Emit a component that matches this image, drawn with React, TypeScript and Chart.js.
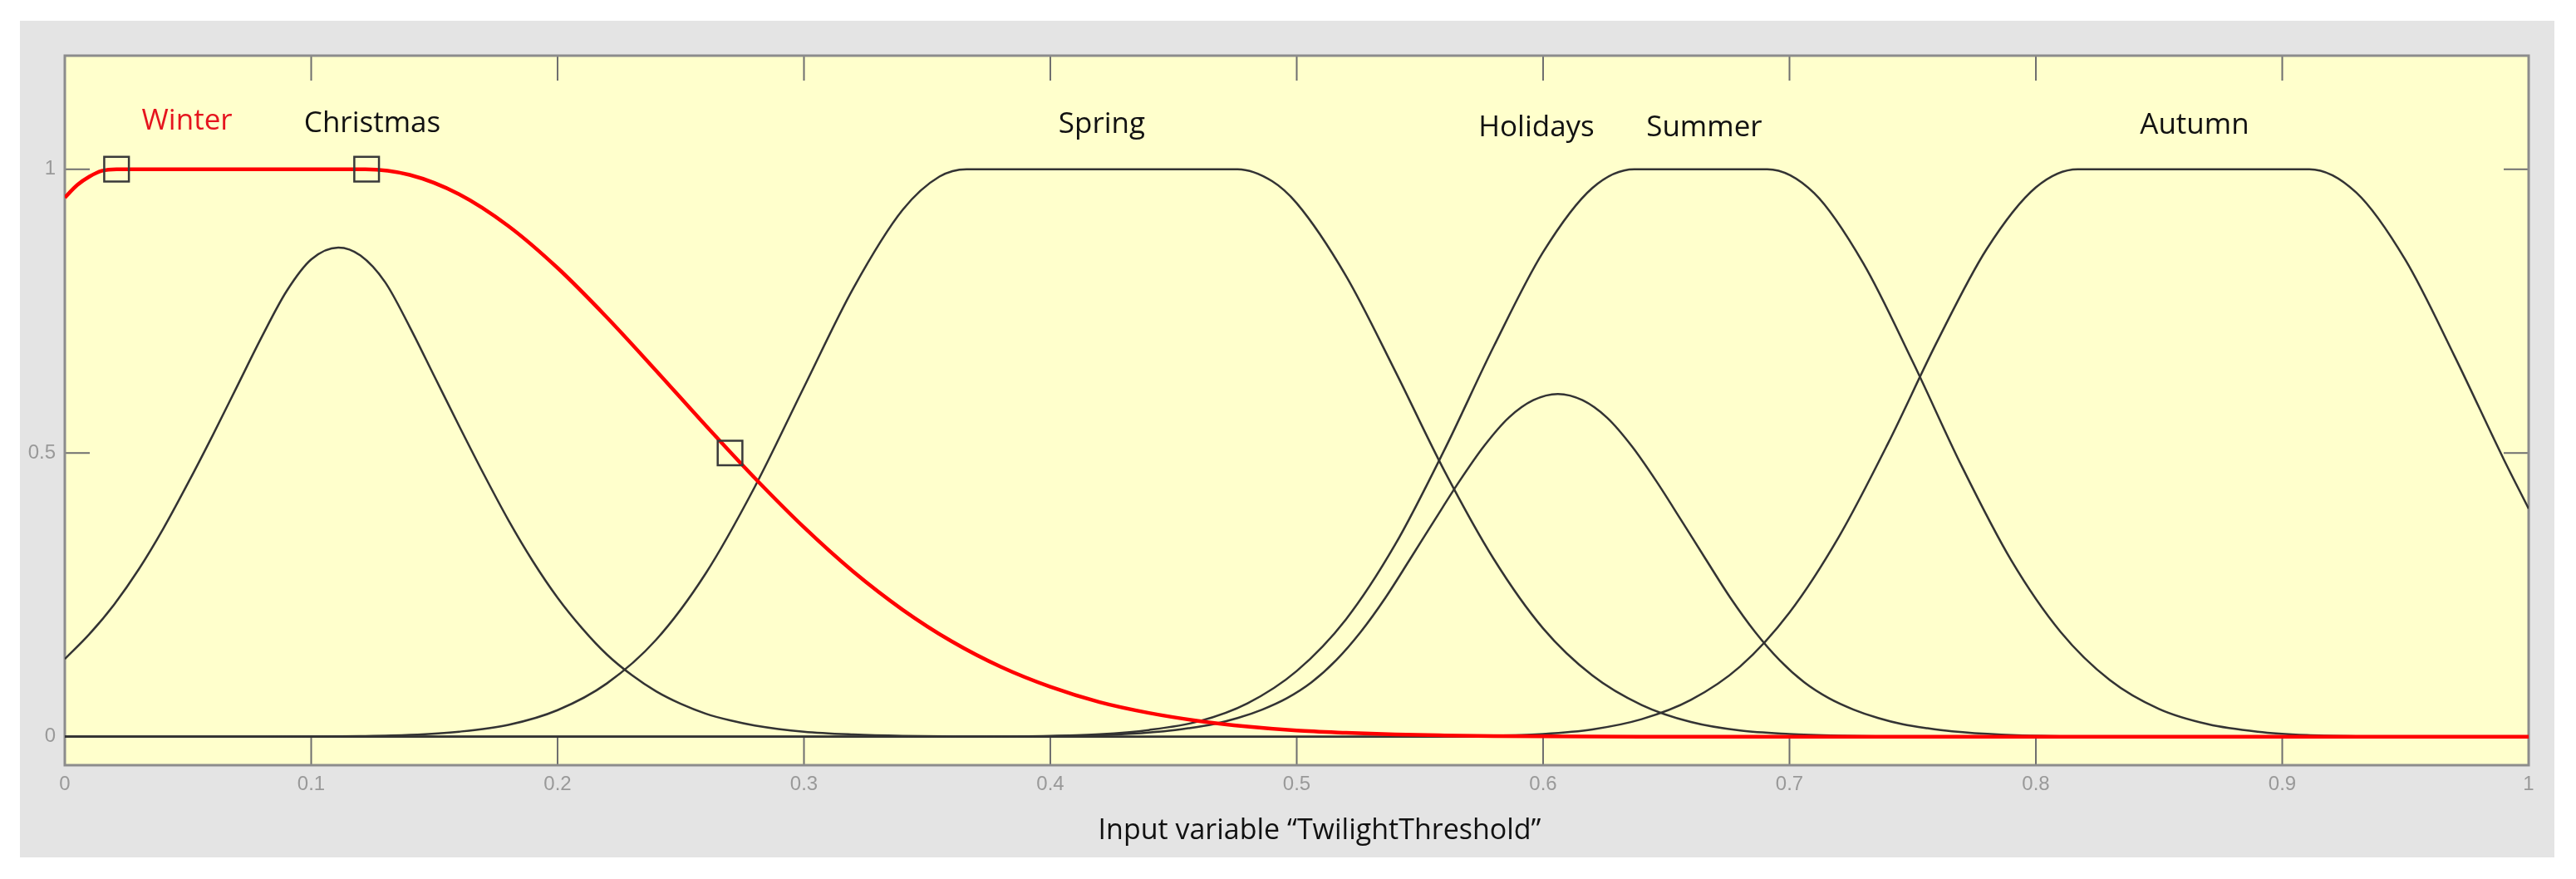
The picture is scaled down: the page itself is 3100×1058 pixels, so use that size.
import React, { useEffect, useRef } from "react";
import { Chart, registerables } from "chart.js";

Chart.register(...registerables);

// ---------- axis ticks ----------
const xTicks = [0, 0.1, 0.2, 0.3, 0.4, 0.5, 0.6, 0.7, 0.8, 0.9, 1];
const xTickLabels = ["0", "0.1", "0.2", "0.3", "0.4", "0.5", "0.6", "0.7", "0.8", "0.9", "1"];
const yTicks = [0, 0.5, 1];
const yTickLabels = ["0", "0.5", "1"];

// ---------- membership function names / label anchors (data coords) ----------
const mfNames = ["Winter", "Christmas", "Spring", "Holidays", "Summer", "Autumn"];
const labelX = [0.0496, 0.1248, 0.4209, 0.5973, 0.6654, 0.8644];
const labelY = [1.07, 1.066, 1.064, 1.058, 1.058, 1.063];
const xTitle = "Input variable \u201CTwilightThreshold\u201D";

// ---------- series ----------
const winterX = [0, 0.005, 0.01, 0.015, 0.021, 0.122, 0.14, 0.16, 0.18, 0.2, 0.22, 0.24, 0.26, 0.28, 0.3, 0.32, 0.34, 0.36, 0.38, 0.4, 0.42, 0.44, 0.46, 0.48, 0.5, 0.52, 0.54, 0.56, 0.58, 0.6, 0.64, 0.7, 1];
const winterY = [0.95, 0.972, 0.987, 0.997, 1, 1, 0.99, 0.956, 0.9, 0.826, 0.739, 0.645, 0.549, 0.456, 0.369, 0.291, 0.224, 0.168, 0.123, 0.088, 0.061, 0.042, 0.028, 0.018, 0.011, 0.007, 0.004, 0.0024, 0.0014, 0.0008, 0.0002, 0, 0];

const christmasX = [0, 0.01, 0.02, 0.03, 0.04, 0.05, 0.06, 0.07, 0.08, 0.09, 0.1, 0.111, 0.12, 0.13, 0.14, 0.15, 0.16, 0.17, 0.18, 0.19, 0.2, 0.21, 0.22, 0.23, 0.24, 0.25, 0.26, 0.27, 0.28, 0.3, 0.32, 0.34, 0.36, 0.4, 1];
const christmasY = [0.137, 0.181, 0.233, 0.295, 0.367, 0.447, 0.531, 0.618, 0.705, 0.785, 0.841, 0.862, 0.848, 0.801, 0.722, 0.635, 0.548, 0.463, 0.382, 0.309, 0.245, 0.191, 0.145, 0.109, 0.08, 0.058, 0.041, 0.029, 0.02, 0.009, 0.004, 0.0015, 0.0006, 0, 0];

const springX = [0, 0.08, 0.1, 0.12, 0.14, 0.16, 0.18, 0.2, 0.22, 0.24, 0.26, 0.28, 0.3, 0.32, 0.34, 0.355, 0.366, 0.476, 0.49, 0.5, 0.52, 0.54, 0.56, 0.58, 0.6, 0.62, 0.64, 0.66, 0.68, 0.7, 0.72, 0.74, 0.76, 1];
const springY = [0, 0, 0.0004, 0.0012, 0.0034, 0.009, 0.021, 0.047, 0.094, 0.171, 0.287, 0.44, 0.616, 0.79, 0.928, 0.987, 1, 1, 0.979, 0.94, 0.812, 0.644, 0.468, 0.313, 0.191, 0.108, 0.056, 0.026, 0.011, 0.005, 0.002, 0.0005, 0, 0];

const holidaysX = [0, 0.366, 0.406, 0.426, 0.446, 0.456, 0.466, 0.476, 0.486, 0.496, 0.506, 0.516, 0.526, 0.536, 0.546, 0.556, 0.566, 0.576, 0.586, 0.596, 0.606, 0.616, 0.626, 0.636, 0.646, 0.656, 0.666, 0.676, 0.686, 0.696, 0.706, 0.716, 0.726, 0.736, 0.746, 0.756, 0.766, 0.786, 0.806, 0.846, 1];
const holidaysY = [0, 0.0002, 0.0014, 0.0039, 0.0097, 0.015, 0.022, 0.033, 0.048, 0.068, 0.096, 0.135, 0.185, 0.245, 0.313, 0.382, 0.45, 0.512, 0.562, 0.593, 0.604, 0.593, 0.562, 0.512, 0.45, 0.382, 0.313, 0.245, 0.185, 0.135, 0.096, 0.068, 0.048, 0.033, 0.022, 0.015, 0.0097, 0.0039, 0.0014, 0.0002, 0];

const summerX = [0, 0.36, 0.38, 0.4, 0.42, 0.44, 0.46, 0.48, 0.5, 0.52, 0.54, 0.56, 0.58, 0.6, 0.62, 0.637, 0.691, 0.71, 0.73, 0.75, 0.77, 0.79, 0.81, 0.83, 0.85, 0.87, 0.89, 0.91, 0.93, 0.96, 1];
const summerY = [0, 0, 0.0005, 0.0016, 0.0045, 0.012, 0.027, 0.059, 0.116, 0.207, 0.339, 0.506, 0.688, 0.854, 0.967, 1, 1, 0.958, 0.834, 0.661, 0.476, 0.311, 0.185, 0.1, 0.049, 0.022, 0.009, 0.003, 0.001, 0, 0];

const autumnX = [0, 0.52, 0.54, 0.56, 0.58, 0.6, 0.62, 0.64, 0.66, 0.68, 0.7, 0.72, 0.74, 0.76, 0.78, 0.8, 0.817, 0.911, 0.93, 0.95, 0.97, 0.99, 1];
const autumnY = [0, 0, 0.0002, 0.0006, 0.002, 0.005, 0.013, 0.031, 0.065, 0.124, 0.219, 0.352, 0.517, 0.697, 0.859, 0.968, 1, 1, 0.959, 0.84, 0.67, 0.488, 0.402];

// square markers on the selected (Winter) function
const markerX = [0.021, 0.1225, 0.27];
const markerY = [1, 1, 0.5];

const W = 3100;
const H = 1058;

function pts(xs: number[], ys: number[]) {
  return xs.map((x, i) => ({ x, y: ys[i] }));
}

export default function App() {
  const ref = useRef<HTMLCanvasElement | null>(null);

  useEffect(() => {
    const canvas = ref.current;
    if (!canvas) return;

    const decor = {
      id: "decor",
      beforeDraw(chart: any) {
        const { ctx, chartArea: a } = chart;
        ctx.save();
        ctx.fillStyle = "#ffffff";
        ctx.fillRect(0, 0, W, H);
        ctx.fillStyle = "#e4e4e4";
        ctx.fillRect(24, 25, 3050, 1007);
        ctx.fillStyle = "#ffffcc";
        ctx.fillRect(a.left, a.top, a.right - a.left, a.bottom - a.top);
        ctx.restore();
      },
      beforeDatasetsDraw(chart: any) {
        const { ctx, chartArea: a, scales } = chart;
        const sx = scales.x;
        const sy = scales.y;
        ctx.save();
        ctx.strokeStyle = "#6f6f6f";
        ctx.lineWidth = 2;
        ctx.beginPath();
        xTicks.forEach((v) => {
          if (v <= 0 || v >= 1) return;
          const px = sx.getPixelForValue(v);
          ctx.moveTo(px, a.bottom);
          ctx.lineTo(px, a.bottom - 33);
          ctx.moveTo(px, a.top);
          ctx.lineTo(px, a.top + 30);
        });
        yTicks.forEach((v) => {
          const py = sy.getPixelForValue(v);
          ctx.moveTo(a.left, py);
          ctx.lineTo(a.left + 30, py);
          ctx.moveTo(a.right, py);
          ctx.lineTo(a.right - 30, py);
        });
        ctx.stroke();
        ctx.strokeStyle = "#8c8c8c";
        ctx.lineWidth = 3;
        ctx.strokeRect(a.left, a.top, a.right - a.left, a.bottom - a.top);
        ctx.restore();
      },
      afterDatasetsDraw(chart: any) {
        const { ctx, scales } = chart;
        const sx = scales.x;
        const sy = scales.y;
        ctx.save();
        ctx.font = "35px 'Open Sans'";
        ctx.textAlign = "center";
        ctx.textBaseline = "alphabetic";
        mfNames.forEach((name, i) => {
          ctx.fillStyle = i === 0 ? "#e5141e" : "#111111";
          ctx.fillText(name, sx.getPixelForValue(labelX[i]), sy.getPixelForValue(labelY[i]));
        });
        ctx.fillStyle = "#111111";
        ctx.font = "34px 'Open Sans'";
        ctx.fillText(xTitle, 1588, 1010);
        ctx.restore();
      },
    };

    const lineDs = (i: number, xs: number[], ys: number[], color: string, width: number, order: number) => ({
      label: mfNames[i],
      data: pts(xs, ys),
      borderColor: color,
      borderWidth: width,
      pointRadius: 0,
      cubicInterpolationMode: "monotone",
      order,
    });

    const chart = new Chart(canvas, {
      type: "line",
      data: {
        datasets: [
          {
            label: "markers",
            data: pts(markerX, markerY),
            showLine: false,
            pointStyle: "rect",
            pointRadius: 21,
            pointBorderWidth: 2.5,
            pointBorderColor: "#3a3a3a",
            pointBackgroundColor: "rgba(0,0,0,0)",
            order: 0,
          },
          lineDs(0, winterX, winterY, "#ff0000", 4.5, 1),
          lineDs(1, christmasX, christmasY, "#333333", 2.5, 2),
          lineDs(2, springX, springY, "#333333", 2.5, 3),
          lineDs(3, holidaysX, holidaysY, "#333333", 2.5, 4),
          lineDs(4, summerX, summerY, "#333333", 2.5, 5),
          lineDs(5, autumnX, autumnY, "#333333", 2.5, 6),
        ],
      },
      options: {
        animation: false,
        responsive: false,
        devicePixelRatio: 1,
        layout: { padding: { left: 28, right: 57, top: 67, bottom: 77 } },
        plugins: {
          legend: { display: false },
          tooltip: { enabled: false },
          title: { display: false },
        },
        elements: { line: { fill: false } },
        scales: {
          x: {
            type: "linear",
            min: 0,
            max: 1,
            afterBuildTicks: (s: any) => {
              s.ticks = xTicks.map((v) => ({ value: v }));
            },
            afterFit: (s: any) => {
              s.height = 60;
            },
            ticks: {
              autoSkip: false,
              maxRotation: 0,
              minRotation: 0,
              padding: 9,
              color: "#999999",
              font: { family: "'Liberation Sans'", size: 24 },
              callback: (v: any) => {
                const i = xTicks.findIndex((t) => Math.abs(t - Number(v)) < 1e-9);
                return i >= 0 ? xTickLabels[i] : "";
              },
            },
            grid: { display: false, drawTicks: false },
            border: { display: false },
          },
          y: {
            type: "linear",
            min: -0.05,
            max: 1.2,
            afterBuildTicks: (s: any) => {
              s.ticks = yTicks.map((v) => ({ value: v }));
            },
            afterFit: (s: any) => {
              s.width = 50;
            },
            ticks: {
              autoSkip: false,
              padding: 11,
              color: "#999999",
              font: { family: "'Liberation Sans'", size: 24 },
              callback: (v: any) => {
                const i = yTicks.findIndex((t) => Math.abs(t - Number(v)) < 1e-9);
                return i >= 0 ? yTickLabels[i] : "";
              },
            },
            grid: { display: false, drawTicks: false },
            border: { display: false },
          },
        },
      },
      plugins: [decor],
    } as any);

    return () => chart.destroy();
  }, []);

  return (
    <div style={{ position: "absolute", left: 0, top: 0, width: W, height: H, background: "#ffffff" }}>
      <canvas ref={ref} width={W} height={H} style={{ display: "block", width: W, height: H }} />
    </div>
  );
}
